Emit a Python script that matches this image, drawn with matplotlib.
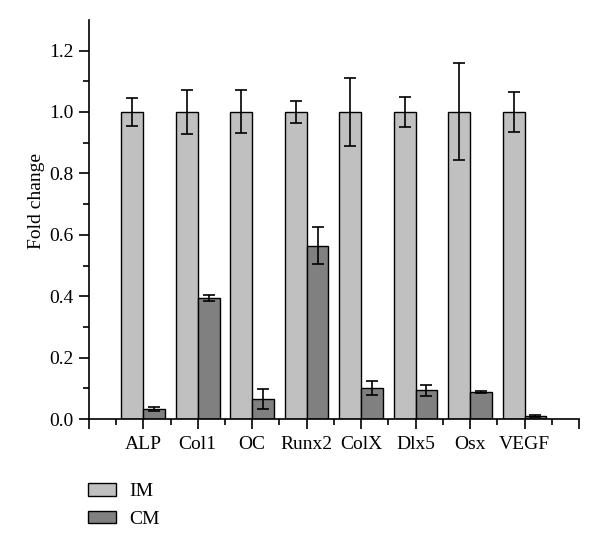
import numpy as np
import matplotlib.pyplot as plt

genes = ['ALP', 'Col1', 'OC', 'Runx2', 'ColX', 'Dlx5', 'Osx', 'VEGF']
im_vals = [1.0, 1.0, 1.0, 1.0, 1.0, 1.0, 1.0, 1.0]
im_err = [0.045, 0.073, 0.070, 0.035, 0.110, 0.050, 0.158, 0.066]
cm_vals = [0.033, 0.395, 0.065, 0.564, 0.100, 0.094, 0.088, 0.010]
cm_err = [0.008, 0.010, 0.033, 0.060, 0.023, 0.018, 0.003, 0.002]

plt.rcParams['font.family'] = ['Liberation Serif', 'DejaVu Serif']

fig = plt.figure(figsize=(6, 5.5), dpi=100)
ax = fig.add_axes([0.148, 0.238, 0.817, 0.726])

x = np.arange(1, len(genes) + 1)
w = 0.4
b1 = ax.bar(x - w/2, im_vals, w, yerr=im_err, color='#c0c0c0', edgecolor='black',
            linewidth=1.0, capsize=4, error_kw=dict(elinewidth=1.2, capthick=1.2),
            label='IM')
b2 = ax.bar(x + w/2, cm_vals, w, yerr=cm_err, color='#808080', edgecolor='black',
            linewidth=1.0, capsize=4, error_kw=dict(elinewidth=1.2, capthick=1.2),
            label='CM')

ax.set_xlim(0, 9)
ax.set_ylim(0, 1.3)
ax.set_xticks(np.arange(0, 10))
ax.set_xticklabels([''] + genes + [''], fontsize=14)
ax.set_xticks(np.arange(0.5, 9, 1), minor=True)
ax.set_yticks(np.arange(0, 1.21, 0.2))
ax.set_yticklabels([f'{v:.1f}' for v in np.arange(0, 1.21, 0.2)], fontsize=14)
ax.set_yticks(np.arange(0.1, 1.3, 0.2), minor=True)
ax.tick_params(which='major', direction='out', length=7, width=1.2, pad=4)
ax.tick_params(which='minor', direction='out', length=4, width=1.2)
ax.tick_params(axis='x', pad=5)
ax.spines['top'].set_visible(False)
ax.spines['right'].set_visible(False)
ax.spines['left'].set_linewidth(1.2)
ax.spines['bottom'].set_linewidth(1.2)
ax.set_ylabel('Fold change', fontsize=14)
ax.yaxis.set_label_coords(-0.09, 0.545)

fig.legend(handles=[b1, b2], labels=['IM', 'CM'], loc='upper left',
           bbox_to_anchor=(0.118, 0.153), frameon=False, fontsize=14,
           handlelength=1.4, handleheight=0.6, handletextpad=0.7,
           labelspacing=0.55)

plt.savefig('out.png', dpi=100)
